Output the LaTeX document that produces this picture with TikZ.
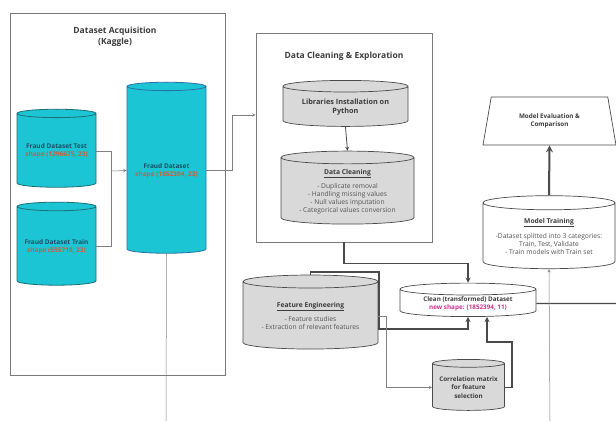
\documentclass[tikz,border=0pt]{standalone}
\usepackage{fontspec}
\setmainfont{Open Sans}
\usetikzlibrary{shapes.geometric,arrows.meta}

\definecolor{kagcyan}{HTML}{1CC5D3}
\definecolor{cyanedge}{HTML}{1D6E78}
\definecolor{bigedge}{HTML}{2B6FA8}
\definecolor{cyantext}{HTML}{1D4E66}
\definecolor{shapetext}{HTML}{C8603E}
\definecolor{boxgray}{HTML}{D9D9D9}
\definecolor{darkline}{HTML}{4A4A4A}
\definecolor{linegray}{HTML}{808080}
\definecolor{framegray}{HTML}{7A7A7A}
\definecolor{titletext}{HTML}{3C3C3C}
\definecolor{listtext}{HTML}{555555}
\definecolor{newshape}{HTML}{D0338A}

\tikzset{
  dbcyl/.style={cylinder, shape border rotate=90, aspect=0.13, draw,
    align=center, inner sep=1pt},
  cyancyl/.style={dbcyl, fill=kagcyan, draw=cyanedge, line width=0.8pt,
    font=\fontsize{6.5}{8}\selectfont\bfseries, text=cyantext},
  graycyl/.style={dbcyl, fill=boxgray, draw=darkline, line width=0.7pt,
    font=\fontsize{6.7}{8}\selectfont, text=listtext},
  whitecyl/.style={dbcyl, fill=white, draw=darkline, line width=0.7pt,
    font=\fontsize{6.7}{8}\selectfont, text=listtext},
  stagebox/.style={draw=framegray, line width=0.9pt},
  stagetitle/.style={align=center, text=titletext,
    font=\fontsize{8.5}{11}\selectfont\bfseries},
  thinline/.style={draw=linegray, line width=0.5pt},
  thickline/.style={draw=darkline, line width=1.3pt},
}

\begin{document}
\begin{tikzpicture}[x=1pt, y=-1pt]
\useasboundingbox[fill=white] (0,0) rectangle (616,421);

% Dataset Acquisition
\node (acqbox) [stagebox,
    minimum width=215pt,
    minimum height=362pt
] at (117.5,194) {};
\node (acqtitle) [stagetitle] at (115,37) {Dataset Acquisition\\(Kaggle)};

\node (test) [cyancyl,
    minimum width=79pt,
    minimum height=78pt
] at (56.5,151) {Fraud Dataset Test\\{\color{shapetext}shape (1296675, 23)}};

\node (train) [cyancyl,
    minimum width=79pt,
    minimum height=83pt
] at (56.5,246.5) {Fraud Dataset Train\\{\color{shapetext}shape (555719, 23)}};

\node (fraud) [cyancyl,
    draw=bigedge,
    minimum width=79pt,
    minimum height=171pt
] at (166.5,170.5) {Fraud Dataset\\{\color{shapetext}shape (1852394, 23)}};

% Data Cleaning & Exploration
\node (cleanbox) [stagebox,
    minimum width=176pt,
    minimum height=209pt
] at (344,137.5) {};
\node (cleantitle) [stagetitle] at (344,56) {Data Cleaning \& Exploration};

\node (libs) [graycyl,
    text=titletext,
    font=\fontsize{7.3}{9.5}\selectfont\bfseries,
    minimum width=125pt,
    minimum height=46pt
] at (345.5,107) {Libraries Installation on\\Python};

\node (cleaning) [graycyl,
    minimum width=133pt,
    minimum height=73pt
] at (347.5,191.5) {\textbf{\color{titletext}\underline{Data Cleaning}}\\[4pt]
    - Duplicate removal\\- Handling missing values\\- Null values imputation\\- Categorical values conversion};

% Transformation
\node (cleandata) [whitecyl,
    text=titletext,
    font=\fontsize{6.3}{8}\selectfont\bfseries,
    minimum width=136pt,
    minimum height=33pt
] at (468,303.5) {Clean (transformed) Dataset\\{\color{newshape}new shape: (1852394, 11)}};

\node (feature) [graycyl,
    minimum width=135pt,
    minimum height=74pt
] at (310.5,316) {\textbf{\color{titletext}\underline{Feature Engineering}}\\[5pt]
    - Feature studies\\- Extraction of relevant features};

\node (corr) [graycyl,
    text=titletext,
    font=\fontsize{6.3}{8.5}\selectfont\bfseries,
    minimum width=72pt,
    minimum height=51pt
] at (468.5,387.5) {Correlation matrix\\for feature\\selection};

% Modelling
\node (training) [whitecyl,
    minimum width=132pt,
    minimum height=73pt
] at (549,236.5) {\textbf{\color{titletext}\underline{Model Training}}\\[5pt]
    -Dataset splitted into 3 categories:\\Train, Test, Validate\\- Train models with Train set};

\node (evaluation) [trapezium,
    draw=darkline, line width=0.7pt,
    trapezium angle=69,
    trapezium stretches body,
    minimum width=133pt,
    minimum height=48pt,
    align=center, text=titletext,
    font=\fontsize{6.3}{8.5}\selectfont\bfseries
] at (549.5,121) {Model Evaluation \&\\Comparison};

% connectors
\coordinate (merge) at (111,171);
\coordinate (fraudout) at (166,421);
\coordinate (fe1) at (379,272);
\coordinate (fe2) at (379,329);
\coordinate (co1) at (487,342);
\coordinate (offright) at (616,303.5);
\coordinate (offbottom) at (550,421);

\draw [thinline](test.east) -| (merge);
\draw [thinline](train.east) -| (merge);
\draw [thinline,-stealth](merge) -- (fraud.west);
\draw [thinline,-stealth](fraud.east) -- ++(26,0) |- ([yshift=22.5pt]cleanbox.west);
\draw [thinline](fraud.south) -- (fraudout);

\draw [darkline,line width=0.8pt,-stealth](libs.south) -- (cleaning.north);

\draw [thickline,-stealth](cleanbox.south) -- ++(0,21) -| (cleandata.north);
\draw [thickline,-stealth](feature.north) |- (fe1) -- (fe2) -| (cleandata.south);
\draw [thinline,-stealth](feature.east) -- ++(8,0) |- (corr.west);
\draw [thickline,-stealth](corr.east) -- ++(7,0) |- (co1) -- (co1 |- cleandata.south);
\draw [thickline](cleandata.east) -- (offright);

\draw [thinline,-stealth](offbottom) -- (training.south);
\draw [darkline,line width=2pt,-stealth](training.north) -- (evaluation.south);

\end{tikzpicture}
\end{document}
